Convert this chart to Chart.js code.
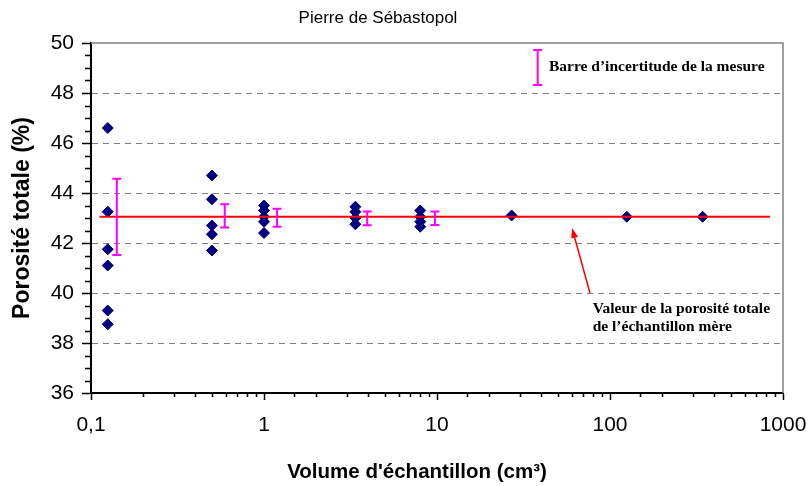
<!DOCTYPE html>
<html>
<head>
<meta charset="utf-8">
<script src="https://cdn.jsdelivr.net/npm/chart.js@4/dist/chart.umd.min.js"></script>
<style>
  html, body { margin: 0; padding: 0; background: #fff; }
</style>
</head>
<body>
<canvas id="myChart1" width="812" height="486"></canvas>
<script>
// sample volumes (cm3) and measured total porosity (%)
var volume = [0.125,0.125,0.125,0.125,0.125,0.125,
              0.5,0.5,0.5,0.5,0.5,
              1,1,1,1,1,
              3.375,3.375,3.375,3.375,
              8,8,8,8,
              27,125,343];
var porosity = [46.6,43.25,41.75,41.1,39.3,38.75,
                44.7,43.75,42.7,42.35,41.7,
                43.5,43.3,43.05,42.85,42.4,
                43.45,43.25,43.0,42.75,
                43.3,43.05,42.85,42.65,
                43.1,43.05,43.05];

// uncertainty bars
var errVolume = [0.141,0.593,1.19,3.95,9.73];
var errLow = [41.52,42.62,42.65,42.71,42.72];
var errHigh = [44.57,43.55,43.37,43.26,43.26];

// parent sample porosity (reference line)
var refVolume = [0.112,840];
var refPorosity = [43.05,43.05];

var yTicks = [36,38,40,42,44,46,48,50];

// annotation anchors (data coords)
var legendBar = {x: 38.2, low: 48.32, high: 49.72, textX: 44.4, textY: 49.04};
var arrowFrom = {x: 76.6, y: 40.0};
var arrowTo = {x: 60.3, y: 42.6};
var noteAt = {x: 79.4, y1: 39.36, y2: 38.65};

var pts = [];
for (var i = 0; i < volume.length; i++) pts.push({x: volume[i], y: porosity[i]});
var refPts = [];
for (i = 0; i < refVolume.length; i++) refPts.push({x: refVolume[i], y: refPorosity[i]});

function isPow10(v){
  var l = Math.log10(v);
  return Math.abs(l - Math.round(l)) < 1e-6;
}

var sansFont = "'Liberation Sans', Arial, sans-serif";
var serifFont = "'Liberation Serif', 'Times New Roman', serif";

var extras = {
  id: 'extras',
  afterDatasetsDraw: function(chart){
    var ctx = chart.ctx, xs = chart.scales.x, ys = chart.scales.y;
    ctx.save();
    ctx.strokeStyle = '#FF00FF';
    ctx.lineWidth = 2;
    for (var i = 0; i < errVolume.length; i++) {
      var px = xs.getPixelForValue(errVolume[i]);
      var t = ys.getPixelForValue(errHigh[i]);
      var b = ys.getPixelForValue(errLow[i]);
      ctx.beginPath();
      ctx.moveTo(px, t); ctx.lineTo(px, b);
      ctx.moveTo(px - 4.5, t); ctx.lineTo(px + 4.5, t);
      ctx.moveTo(px - 4.5, b); ctx.lineTo(px + 4.5, b);
      ctx.stroke();
    }
    // legend bar
    var lx = xs.getPixelForValue(legendBar.x);
    var lt = ys.getPixelForValue(legendBar.high);
    var lb = ys.getPixelForValue(legendBar.low);
    ctx.beginPath();
    ctx.moveTo(lx, lt); ctx.lineTo(lx, lb);
    ctx.moveTo(lx - 4.5, lt); ctx.lineTo(lx + 4.5, lt);
    ctx.moveTo(lx - 4.5, lb); ctx.lineTo(lx + 4.5, lb);
    ctx.stroke();
    ctx.restore();
  },
  afterDraw: function(chart){
    var ctx = chart.ctx, xs = chart.scales.x, ys = chart.scales.y, a = chart.chartArea;
    ctx.save();
    // frame top/right
    ctx.strokeStyle = '#808080';
    ctx.lineWidth = 1.5;
    ctx.beginPath();
    ctx.moveTo(a.left, a.top); ctx.lineTo(a.right, a.top); ctx.lineTo(a.right, a.bottom);
    ctx.stroke();
    // minor ticks
    ctx.strokeStyle = '#000';
    ctx.lineWidth = 1.5;
    ctx.beginPath();
    xs.ticks.forEach(function(t){
      if (!isPow10(t.value)) {
        var px = Math.round(xs.getPixelForValue(t.value)) + 0.5;
        ctx.moveTo(px, a.bottom); ctx.lineTo(px, a.bottom + 4);
      }
    });
    for (var v = 36.5; v < 50; v += 0.5) {
      if (v % 2 === 0) continue;
      var py = Math.round(ys.getPixelForValue(v)) + 0.5;
      ctx.moveTo(a.left - 6, py); ctx.lineTo(a.left, py);
    }
    ctx.stroke();

    // arrow
    var x1 = xs.getPixelForValue(arrowFrom.x), y1 = ys.getPixelForValue(arrowFrom.y);
    var x2 = xs.getPixelForValue(arrowTo.x), y2 = ys.getPixelForValue(arrowTo.y);
    var ang = Math.atan2(y2 - y1, x2 - x1);
    ctx.strokeStyle = '#FF0000';
    ctx.fillStyle = '#FF0000';
    ctx.lineWidth = 1.5;
    ctx.beginPath();
    ctx.moveTo(x1, y1);
    ctx.lineTo(x2 - 8 * Math.cos(ang), y2 - 8 * Math.sin(ang));
    ctx.stroke();
    ctx.beginPath();
    ctx.moveTo(x2, y2);
    ctx.lineTo(x2 - 10 * Math.cos(ang) + 3.5 * Math.sin(ang), y2 - 10 * Math.sin(ang) - 3.5 * Math.cos(ang));
    ctx.lineTo(x2 - 10 * Math.cos(ang) - 3.5 * Math.sin(ang), y2 - 10 * Math.sin(ang) + 3.5 * Math.cos(ang));
    ctx.closePath();
    ctx.fill();

    // texts
    ctx.fillStyle = '#000';
    ctx.font = 'bold 15.5px ' + serifFont;
    ctx.textAlign = 'left';
    ctx.textBaseline = 'middle';
    ctx.fillText('Barre d\u2019incertitude de la mesure', xs.getPixelForValue(legendBar.textX), ys.getPixelForValue(legendBar.textY));
    ctx.fillText('Valeur de la porosit\u00e9 totale', xs.getPixelForValue(noteAt.x), ys.getPixelForValue(noteAt.y1));
    ctx.fillText('de l\u2019\u00e9chantillon m\u00e8re', xs.getPixelForValue(noteAt.x), ys.getPixelForValue(noteAt.y2));

    ctx.font = '17px ' + sansFont;
    ctx.textAlign = 'center';
    ctx.textBaseline = 'alphabetic';
    ctx.fillText('Pierre de S\u00e9bastopol', 378, 23);

    ctx.font = 'bold 20.5px ' + sansFont;
    ctx.textBaseline = 'middle';
    ctx.fillText('Volume d\'\u00e9chantillon (cm\u00b3)', 417, 472);
    ctx.restore();
  }
};

var data = {
  datasets: [
    {
      type: 'line',
      label: 'Valeur de la porosit\u00e9 totale',
      data: refPts,
      borderColor: '#FF0000',
      borderWidth: 2,
      pointRadius: 0,
      fill: false
    },
    {
      type: 'scatter',
      label: 'Porosit\u00e9',
      data: pts,
      pointStyle: 'rectRot',
      pointRadius: 5.5,
      backgroundColor: '#000080',
      borderColor: '#000080',
      borderWidth: 1
    }
  ]
};

var options = {
  responsive: false,
  animation: false,
  layout: { padding: { top: 43, right: 29, bottom: 0, left: 0 } },
  plugins: {
    legend: { display: false },
    tooltip: { enabled: false },
    title: { display: false }
  },
  scales: {
    x: {
      type: 'logarithmic',
      min: 0.1,
      max: 1000,
      afterFit: function(s){ s.height = 93; s.paddingLeft = 0; s.paddingRight = 0; },
      border: { color: '#000', width: 2 },
      grid: {
        drawOnChartArea: false,
        tickLength: 7,
        tickColor: '#000',
        tickWidth: function(c){ return c.tick && isPow10(c.tick.value) ? 1.5 : 0; }
      },
      ticks: {
        autoSkip: false,
        maxRotation: 0,
        padding: 13,
        color: '#000',
        font: { family: sansFont, size: 21 },
        callback: function(v){ return isPow10(v) ? String(+v.toPrecision(3)).replace('.', ',') : ''; }
      }
    },
    y: {
      min: 36,
      max: 50,
      afterFit: function(s){ s.width = 91; },
      afterBuildTicks: function(s){ s.ticks = yTicks.map(function(v){ return {value: v}; }); },
      border: { color: '#000', width: 2, dash: [6, 5] },
      grid: {
        color: function(c){ return c.tick && (c.tick.value === 36 || c.tick.value === 50) ? 'rgba(0,0,0,0)' : '#808080'; },
        lineWidth: 1,
        tickLength: 9,
        tickColor: '#000',
        tickWidth: 1.5
      },
      ticks: {
        padding: 8,
        color: '#000',
        font: { family: sansFont, size: 21 }
      },
      title: {
        display: true,
        text: 'Porosit\u00e9 totale (%)',
        color: '#000',
        font: { family: sansFont, size: 23, weight: 'bold' },
        padding: { top: 9, bottom: 0 }
      }
    }
  }
};

var ctx = document.getElementById('myChart1').getContext('2d');
var scatterChart = new Chart(ctx, {
  type: 'scatter',
  data: data,
  options: options,
  plugins: [extras]
});
</script>
</body>
</html>
